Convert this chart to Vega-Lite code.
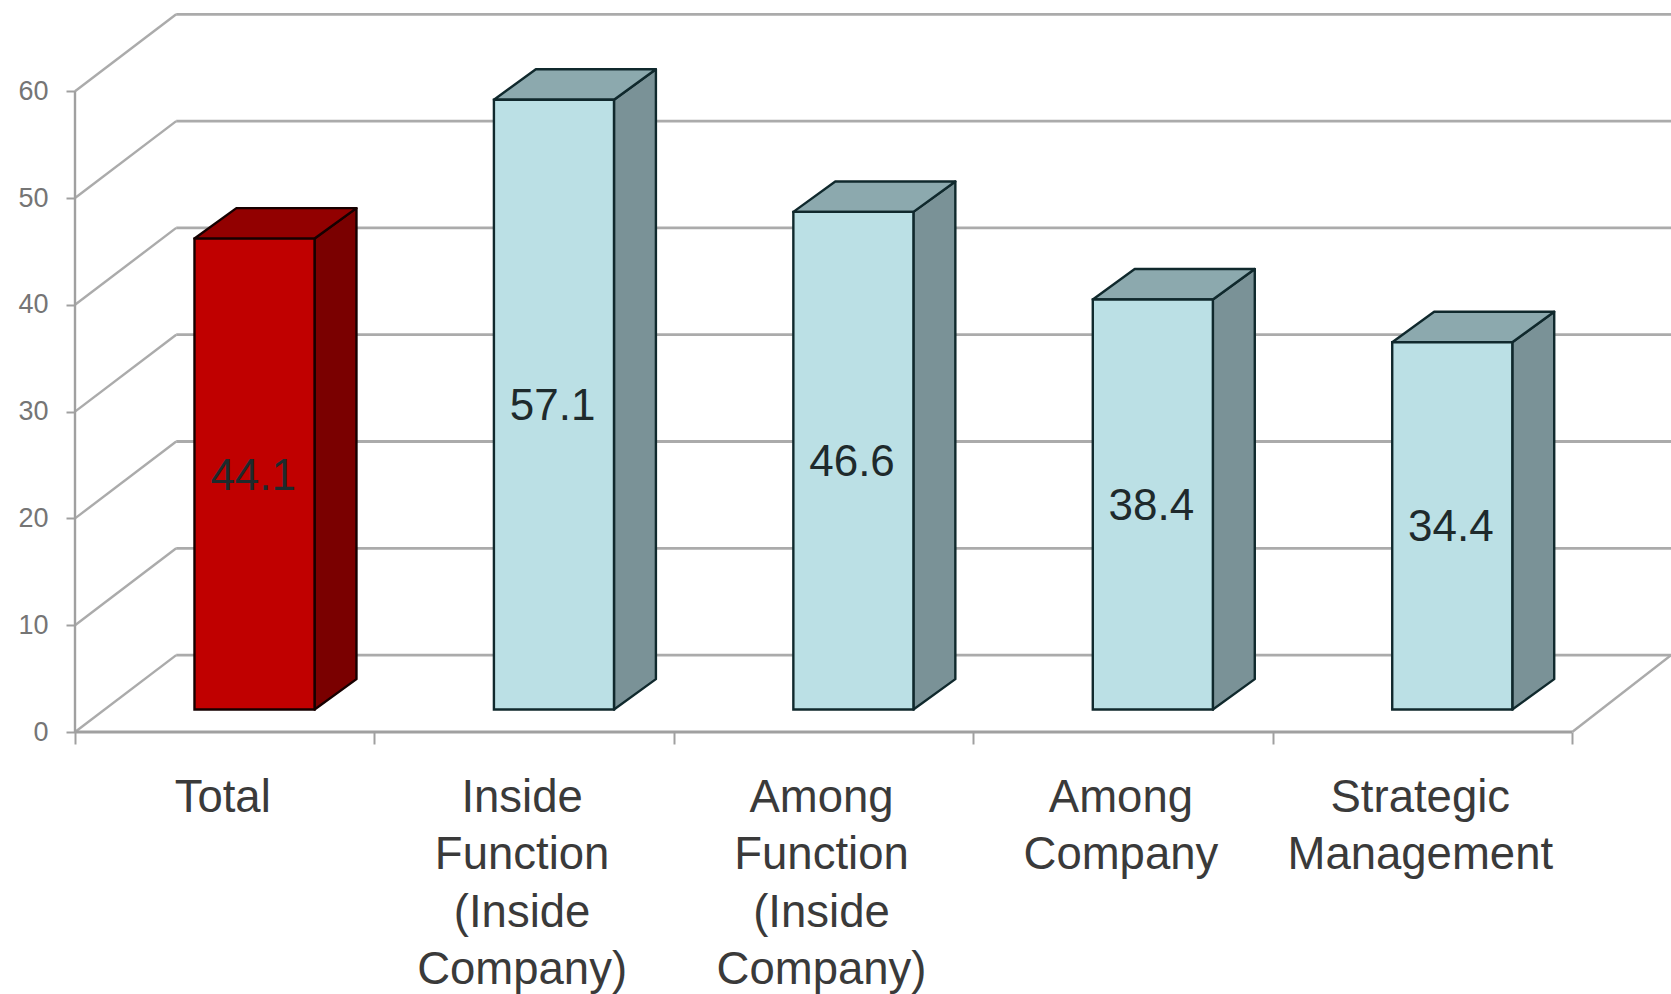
{
  "$schema": "https://vega.github.io/schema/vega-lite/v6.json",
  "width": 1596,
  "height": 732,
  "autosize": {"type": "none"},
  "padding": {"left": 75, "top": 0, "right": 0, "bottom": 262},
  "background": "white",
  "config": {"view": {"stroke": null}, "font": "Liberation Sans"},
  "datasets": {
    "scores": [
      {"label": "Total", "value": 44.1, "group": "Overall"},
      {"label": "Inside\nFunction\n(Inside\nCompany)", "value": 57.1, "group": "Breakdown"},
      {"label": "Among\nFunction\n(Inside\nCompany)", "value": 46.6, "group": "Breakdown"},
      {"label": "Among\nCompany", "value": 38.4, "group": "Breakdown"},
      {"label": "Strategic\nManagement", "value": 34.4, "group": "Breakdown"}
    ],
    "levels": [
      {"level": 0}, {"level": 10}, {"level": 20}, {"level": 30},
      {"level": 40}, {"level": 50}, {"level": 60}
    ]
  },
  "layer": [
    {
      "layer": [
        {
          "description": "Back wall gridlines, pushed back by the chart depth",
          "data": {"name": "levels"},
          "transform": [
            {"calculate": "datum.level + 7.2", "as": "backLevel"},
            {"calculate": "0.338", "as": "wallX"},
            {"calculate": "5.33", "as": "wallEnd"}
          ],
          "mark": {"type": "rule", "color": "#ABABAB", "strokeWidth": 2.8},
          "encoding": {
            "x": {
              "field": "wallX",
              "type": "quantitative",
              "scale": {"domain": [0, 5.33], "nice": false, "zero": false},
              "axis": {
                "values": [0, 1, 2, 3, 4, 5],
                "labels": false,
                "domain": false,
                "grid": false,
                "title": null,
                "tickSize": 12,
                "tickColor": "#A0A0A0",
                "tickWidth": 2
              }
            },
            "x2": {"field": "wallEnd"},
            "y": {
              "field": "backLevel",
              "type": "quantitative",
              "scale": {"domain": [0, 68.54], "nice": false, "zero": false},
              "axis": {
                "values": [0, 10, 20, 30, 40, 50, 60],
                "domain": false,
                "grid": false,
                "title": null,
                "tickSize": 9,
                "tickColor": "#A0A0A0",
                "tickWidth": 2,
                "labelFontSize": 27,
                "labelColor": "#757575",
                "labelPadding": 18
              }
            }
          }
        },
        {
          "description": "Side wall gridlines running from the front axis to the back wall",
          "data": {"name": "levels"},
          "transform": [
            {"calculate": "datum.level + 7.2", "as": "backLevel"},
            {"calculate": "0", "as": "frontX"},
            {"calculate": "0.338", "as": "wallX"}
          ],
          "mark": {"type": "rule", "color": "#ABABAB", "strokeWidth": 2.4},
          "encoding": {
            "x": {"field": "frontX", "type": "quantitative"},
            "x2": {"field": "wallX"},
            "y": {"field": "level", "type": "quantitative"},
            "y2": {"field": "backLevel"}
          }
        },
        {
          "description": "Front value axis line, which stops at the top level",
          "data": {"name": "levels"},
          "transform": [
            {"filter": "datum.level === 60"},
            {"calculate": "0", "as": "frontX"},
            {"calculate": "0", "as": "base"}
          ],
          "mark": {"type": "rule", "color": "#A0A0A0", "strokeWidth": 2.4},
          "encoding": {
            "x": {"field": "frontX", "type": "quantitative"},
            "y": {"field": "base", "type": "quantitative"},
            "y2": {"field": "level"}
          }
        },
        {
          "description": "Front floor edge along the categories",
          "data": {"name": "levels"},
          "transform": [
            {"filter": "datum.level === 0"},
            {"calculate": "0", "as": "frontX"},
            {"calculate": "5", "as": "frontEnd"}
          ],
          "mark": {"type": "rule", "color": "#A0A0A0", "strokeWidth": 2.8},
          "encoding": {
            "x": {"field": "frontX", "type": "quantitative"},
            "x2": {"field": "frontEnd"},
            "y": {"field": "level", "type": "quantitative"}
          }
        },
        {
          "description": "Right floor edge",
          "data": {"name": "levels"},
          "transform": [
            {"filter": "datum.level === 0"},
            {"calculate": "datum.level + 7.2", "as": "backLevel"},
            {"calculate": "5", "as": "frontEnd"},
            {"calculate": "5.33", "as": "wallEnd"}
          ],
          "mark": {"type": "rule", "color": "#ABABAB", "strokeWidth": 2.4},
          "encoding": {
            "x": {"field": "frontEnd", "type": "quantitative"},
            "x2": {"field": "wallEnd"},
            "y": {"field": "level", "type": "quantitative"},
            "y2": {"field": "backLevel"}
          }
        },
        {
          "description": "Right-hand face of each bar",
          "data": {"name": "scores"},
          "transform": [
            {"window": [{"op": "row_number", "as": "n"}]},
            {"calculate": "[0, 1]", "as": "k"},
            {"flatten": ["k"]},
            {"calculate": "datum.n - 1 + 0.8 + 0.14 * datum.k", "as": "px"},
            {"calculate": "2.1 + 2.85 * datum.k", "as": "low"},
            {"calculate": "datum.low + datum.value", "as": "high"}
          ],
          "mark": {"type": "area", "strokeWidth": 2.4, "strokeJoin": "round"},
          "encoding": {
            "x": {"field": "px", "type": "quantitative"},
            "y": {"field": "high", "type": "quantitative", "stack": null},
            "y2": {"field": "low"},
            "detail": {"field": "label"},
            "fill": {"condition": {"test": "datum.group === 'Overall'", "value": "#7A0000"}, "value": "#7A9297"},
            "stroke": {"condition": {"test": "datum.group === 'Overall'", "value": "#160000"}, "value": "#10292D"}
          }
        },
        {
          "description": "Top face of each bar",
          "data": {"name": "scores"},
          "transform": [
            {"window": [{"op": "row_number", "as": "n"}]},
            {"calculate": "[0, 1, 2, 3]", "as": "k"},
            {"flatten": ["k"]},
            {"calculate": "datum.n - 1 + [0.399, 0.539, 0.8, 0.94][datum.k]", "as": "px"},
            {"calculate": "datum.value + 2.1", "as": "top"},
            {"calculate": "datum.top + (datum.k === 0 ? 0 : 2.85)", "as": "high"},
            {"calculate": "datum.top + (datum.k === 3 ? 2.85 : 0)", "as": "low"}
          ],
          "mark": {"type": "area", "strokeWidth": 2.4, "strokeJoin": "round"},
          "encoding": {
            "x": {"field": "px", "type": "quantitative"},
            "y": {"field": "high", "type": "quantitative", "stack": null},
            "y2": {"field": "low"},
            "detail": {"field": "label"},
            "fill": {"condition": {"test": "datum.group === 'Overall'", "value": "#920000"}, "value": "#8CA9AE"},
            "stroke": {"condition": {"test": "datum.group === 'Overall'", "value": "#160000"}, "value": "#10292D"}
          }
        },
        {
          "description": "Front face of each bar",
          "data": {"name": "scores"},
          "transform": [
            {"window": [{"op": "row_number", "as": "n"}]},
            {"calculate": "datum.n - 1 + 0.399", "as": "left"},
            {"calculate": "datum.n - 1 + 0.8", "as": "right"},
            {"calculate": "2.1", "as": "low"},
            {"calculate": "datum.value + 2.1", "as": "high"}
          ],
          "mark": {"type": "rect", "strokeWidth": 2.4},
          "encoding": {
            "x": {"field": "left", "type": "quantitative"},
            "x2": {"field": "right"},
            "y": {"field": "low", "type": "quantitative"},
            "y2": {"field": "high"},
            "fill": {"condition": {"test": "datum.group === 'Overall'", "value": "#C00000"}, "value": "#BBE0E5"},
            "stroke": {"condition": {"test": "datum.group === 'Overall'", "value": "#160000"}, "value": "#10292D"}
          }
        }
      ]
    },
    {
      "description": "Value labels on the bar faces; this layer also carries the category axis",
      "data": {"name": "scores"},
      "transform": [
        {"calculate": "2.1 + datum.value / 2", "as": "middle"}
      ],
      "mark": {"type": "text", "fontSize": 44, "xOffset": 28.5, "dy": 2.5, "baseline": "middle", "align": "center", "color": "#1E2A2C"},
      "encoding": {
        "x": {
          "field": "label",
          "type": "nominal",
          "sort": null,
          "scale": {"type": "band", "range": [0, 1497], "paddingInner": 0, "paddingOuter": 0},
          "axis": {
            "orient": "bottom",
            "title": null,
            "domain": false,
            "ticks": false,
            "grid": false,
            "labelAngle": 0,
            "labelAlign": "center",
            "labelBaseline": "top",
            "labelFontSize": 45.5,
            "labelLineHeight": 57.5,
            "labelPadding": 43,
            "labelOffset": -2,
            "labelColor": "#3A3A3A",
            "labelLimit": 0,
            "labelOverlap": false,
            "labelExpr": "split(datum.label, '\\n')"
          }
        },
        "y": {"field": "middle", "type": "quantitative"},
        "text": {"field": "value", "type": "quantitative", "format": ".1f"}
      }
    }
  ],
  "resolve": {"scale": {"x": "independent"}, "axis": {"x": "independent"}}
}
